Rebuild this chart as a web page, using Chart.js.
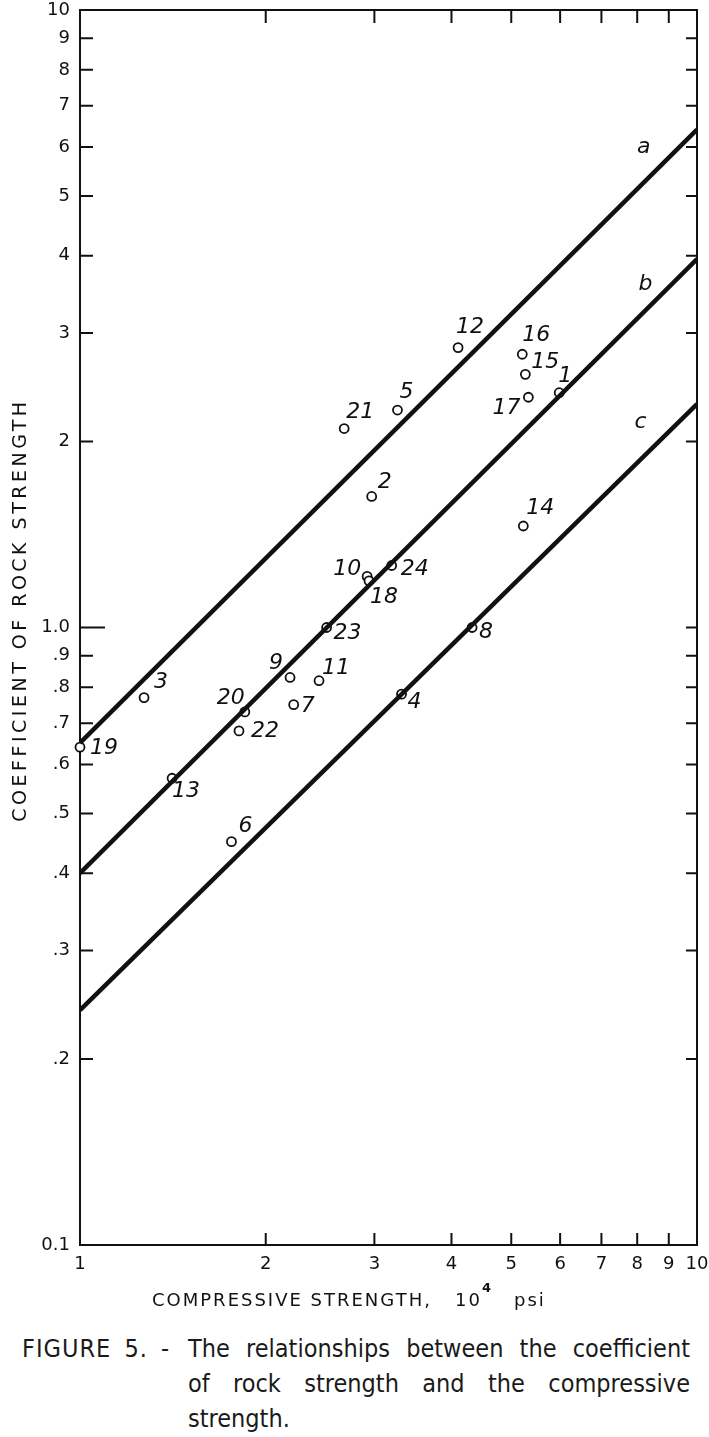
<!DOCTYPE html>
<html>
<head>
<meta charset="utf-8">
<script src="https://cdn.jsdelivr.net/npm/chart.js@4.4.1/dist/chart.umd.min.js"></script>
<style>
  html, body { margin: 0; padding: 0; background: #fff; }
  #wrap { position: relative; width: 709px; height: 1437px; }
  #chartCanvas { display: block; }
  #caption {
    position: absolute; left: 22px; top: 1331px;
    display: flex; color: #1a1a1a;
    font-family: "DejaVu Sans Condensed", "Liberation Sans Narrow", "Liberation Sans", sans-serif;
    font-stretch: condensed; font-size: 25px; line-height: 35px;
  }
  #caption .fig { width: 166px; white-space: nowrap; word-spacing: 5px; letter-spacing: 1px; }
  #caption .txt { width: 502px; }
  #caption .j { text-align: justify; text-align-last: justify; white-space: nowrap; }
</style>
</head>
<body>
<div id="wrap">
  <canvas id="chartCanvas" width="709" height="1320"></canvas>
  <div id="caption">
    <div class="fig">FIGURE 5. -</div>
    <div class="txt">
      <div class="j">The relationships between the coefficient</div>
      <div class="j">of rock strength and the compressive</div>
      <div>strength.</div>
    </div>
  </div>
</div>
<script>
// samples, compressive strength (10^4 psi) and coefficient of rock strength
var sampleIds = [1, 2, 3, 4, 5, 6, 7, 8, 9, 10, 11, 12, 13, 14, 15, 16, 17, 18, 19, 20, 21, 22, 23, 24];
var strength = [5.98, 2.97, 1.27, 3.32, 3.27, 1.76, 2.22, 4.32, 2.19, 2.92, 2.44, 4.10,
                1.41, 5.23, 5.27, 5.21, 5.33, 2.94, 1.0, 1.85, 2.68, 1.81, 2.51, 3.20];
var coefficient = [2.40, 1.63, 0.77, 0.78, 2.25, 0.45, 0.75, 1.0, 0.83, 1.21, 0.82, 2.84,
                   0.57, 1.46, 2.57, 2.77, 2.36, 1.19, 0.64, 0.73, 2.10, 0.68, 1.0, 1.26];

// straight lines a, b, c (value at 1 and at 10 x 10^4 psi)
var lineNames = ['a', 'b', 'c'];
var lineStart = [0.65, 0.40, 0.24];
var lineEnd = [6.4, 3.95, 2.3];

// axis ticks
var xTicks = [1, 2, 3, 4, 5, 6, 7, 8, 9, 10];
var xTickLabels = ['1', '2', '3', '4', '5', '6', '7', '8', '9', '10'];
var yTicks = [0.1, 0.2, 0.3, 0.4, 0.5, 0.6, 0.7, 0.8, 0.9, 1, 2, 3, 4, 5, 6, 7, 8, 9, 10];
var yTickLabels = ['0.1', '.2', '.3', '.4', '.5', '.6', '.7', '.8', '.9', '1.0',
                   '2', '3', '4', '5', '6', '7', '8', '9', '10'];

// where each number sits next to its circle (pixels)
var labelOffsets = [[6, -16], [13, -14], [17, -15], [13, 8], [9, -18], [14, -15], [14, 2], [14, 5],
                    [-14, -14], [-20, -7], [17, -12], [12, -20], [14, 13], [17, -18], [20, -12], [14, -19],
                    [-22, 11], [15, 16], [24, 1], [-14, -14], [16, -16], [26, 0], [21, 6], [23, 4]];
// where the line letters sit (data coords)
var lineLabelPos = [[8.2, 6.0], [8.25, 3.6], [8.1, 2.15]];

var black = '#111';
var tickFont = { family: 'DejaVu Sans', size: 18 };

var datasets = lineNames.map(function (name, i) {
    return {
        label: name,
        data: [{ x: 1, y: lineStart[i] }, { x: 10, y: lineEnd[i] }],
        showLine: true,
        borderColor: black,
        borderWidth: 4.5,
        pointRadius: 0,
        fill: false
    };
});
datasets.push({
    label: 'samples',
    data: sampleIds.map(function (id, i) { return { x: strength[i], y: coefficient[i] }; }),
    showLine: false,
    clip: false,
    pointRadius: 4.5,
    pointBorderWidth: 1.8,
    pointBorderColor: black,
    pointBackgroundColor: '#fff'
});

var framePlugin = {
    id: 'frame',
    beforeDatasetsDraw: function (chart) {
        var ctx = chart.ctx, a = chart.chartArea;
        var sx = chart.scales.x, sy = chart.scales.y;
        ctx.save();
        ctx.strokeStyle = black;
        ctx.lineWidth = 2;
        ctx.strokeRect(a.left, a.top, a.right - a.left, a.bottom - a.top);

        // inward tick marks on all four sides
        ctx.beginPath();
        xTicks.forEach(function (v) {
            if (v === 1 || v === 10) return;
            var px = sx.getPixelForValue(v);
            ctx.moveTo(px, a.bottom); ctx.lineTo(px, a.bottom - 12);
            ctx.moveTo(px, a.top); ctx.lineTo(px, a.top + 13);
        });
        yTicks.forEach(function (v) {
            if (v === 0.1 || v === 10) return;
            var py = sy.getPixelForValue(v);
            var len = (v === 1) ? 25 : 13;
            ctx.moveTo(a.left, py); ctx.lineTo(a.left + len, py);
            ctx.moveTo(a.right, py); ctx.lineTo(a.right - 11, py);
        });
        ctx.stroke();
        ctx.restore();
    },
    afterDatasetsDraw: function (chart) {
        var ctx = chart.ctx, a = chart.chartArea;
        var sx = chart.scales.x, sy = chart.scales.y;
        ctx.save();

        // sample numbers
        ctx.fillStyle = black;
        ctx.textAlign = 'center';
        ctx.textBaseline = 'middle';
        ctx.font = 'oblique 22px "DejaVu Sans"';
        sampleIds.forEach(function (id, i) {
            var px = sx.getPixelForValue(strength[i]) + labelOffsets[i][0];
            var py = sy.getPixelForValue(coefficient[i]) + labelOffsets[i][1];
            ctx.fillText(String(id), px, py);
        });

        // line letters
        lineNames.forEach(function (name, i) {
            ctx.fillText(name, sx.getPixelForValue(lineLabelPos[i][0]), sy.getPixelForValue(lineLabelPos[i][1]));
        });

        // axis titles
        if ('letterSpacing' in ctx) ctx.letterSpacing = '2px';
        ctx.font = '18px "DejaVu Sans"';
        ctx.textAlign = 'left';
        ctx.textBaseline = 'alphabetic';
        var base = 1306;
        ctx.fillText('COMPRESSIVE STRENGTH,', 152, base);
        ctx.fillText('10', 455, base);
        ctx.font = 'bold 13px "DejaVu Sans"';
        ctx.fillText('4', 482, base - 14);
        ctx.font = '18px "DejaVu Sans"';
        ctx.fillText('psi', 514, base);

        ctx.translate(21, 610);
        ctx.rotate(-Math.PI / 2);
        if ('letterSpacing' in ctx) ctx.letterSpacing = '3.5px';
        ctx.textAlign = 'center';
        ctx.textBaseline = 'middle';
        ctx.font = '19px "DejaVu Sans"';
        ctx.fillText('COEFFICIENT OF ROCK STRENGTH', 0, 0);
        ctx.restore();
    }
};

var chartContext = document.getElementById('chartCanvas').getContext('2d');
var chartScatter = new Chart(chartContext, {
    type: 'scatter',
    data: { datasets: datasets },
    options: {
        responsive: false,
        animation: false,
        devicePixelRatio: 1,
        layout: { padding: { top: 10, right: 12, left: 0, bottom: 0 } },
        plugins: {
            legend: { display: false },
            tooltip: { enabled: false }
        },
        scales: {
            x: {
                type: 'logarithmic',
                min: 1,
                max: 10,
                grid: { display: false, drawTicks: false },
                border: { display: false },
                afterBuildTicks: function (scale) {
                    scale.ticks = xTicks.map(function (v) { return { value: v }; });
                },
                afterFit: function (scale) {
                    scale.height = 75;
                    scale.paddingLeft = 0;
                    scale.paddingRight = 0;
                },
                ticks: {
                    autoSkip: false,
                    maxRotation: 0,
                    padding: 9,
                    color: black,
                    font: tickFont,
                    callback: function (v, i) { return xTickLabels[i]; }
                }
            },
            y: {
                type: 'logarithmic',
                min: 0.1,
                max: 10,
                grid: { display: false, drawTicks: false },
                border: { display: false },
                afterBuildTicks: function (scale) {
                    scale.ticks = yTicks.map(function (v) { return { value: v }; });
                },
                afterFit: function (scale) {
                    scale.width = 80;
                    scale.paddingTop = 0;
                    scale.paddingBottom = 0;
                },
                ticks: {
                    autoSkip: false,
                    padding: 10,
                    color: black,
                    font: tickFont,
                    callback: function (v, i) { return yTickLabels[i]; }
                }
            }
        }
    },
    plugins: [framePlugin]
});
</script>
</body>
</html>
